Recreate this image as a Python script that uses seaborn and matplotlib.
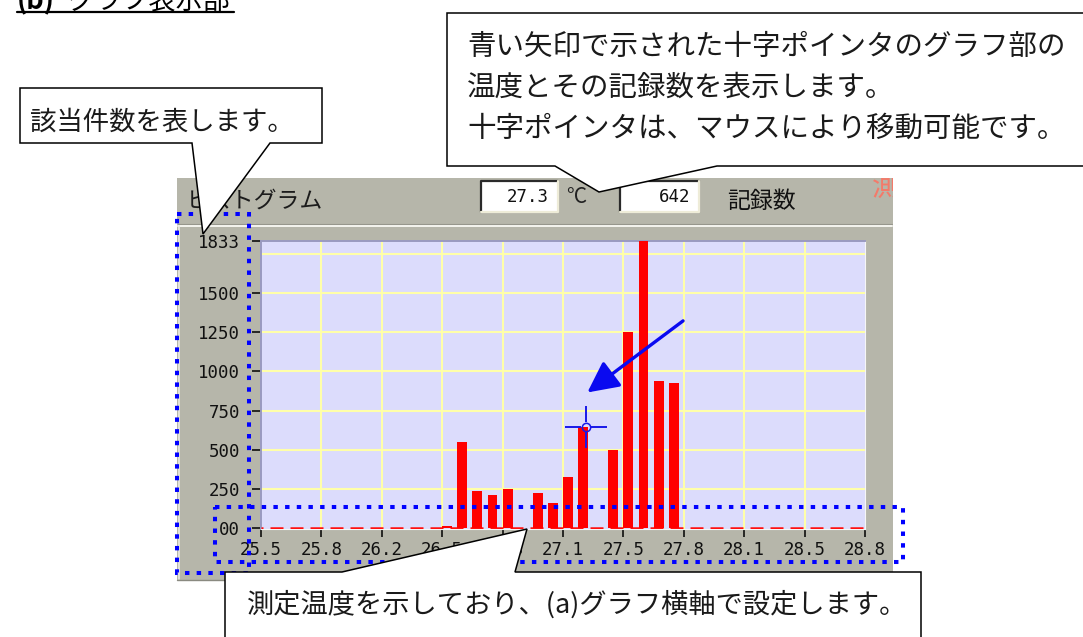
import numpy as np
import pandas as pd
import matplotlib
matplotlib.use("Agg")
import matplotlib.pyplot as plt
import matplotlib.transforms as mtransforms
from matplotlib.patches import Rectangle, Polygon
from matplotlib.path import Path
import seaborn as sns

# ---- histogram data: 40 equal temperature bins between the axis limits ----
temp_min, temp_max = 25.5, 28.8
n_bins = 40
bin_counts = [0, 0, 0, 0, 0, 0, 0, 0, 0, 0, 0, 0,
              15, 547, 236, 212, 251, 0, 225, 161, 328, 642, 0, 498,
              1249, 1833, 937, 927,
              0, 0, 0, 0, 0, 0, 0, 0, 0, 0, 0, 0]
x_tick_labels = ["25.5", "25.8", "26.2", "26.5", "26.8", "27.1",
                 "27.5", "27.8", "28.1", "28.5", "28.8"]
y_ticks = [0, 250, 500, 750, 1000, 1250, 1500, 1833]
y_tick_labels = ["00", "250", "500", "750", "1000", "1250", "1500", "1833"]
cursor_bin = 21          # bin under the cross pointer

panel_title = "ヒストグラム"
unit_label = "°C"
count_label = "記録数"
page_heading_a = "(b)"
page_heading_b = "グラフ表示部"
note_count = "該当件数を表します。"
note_cursor = ["青い矢印で示された十字ポインタのグラフ部の",
               "温度とその記録数を表示します。",
               "十字ポインタは、マウスにより移動可能です。"]
note_axis = "測定温度を示しており、(a)グラフ横軸で設定します。"

sns.set_theme(style="white")
plt.rcParams["font.family"] = ["Noto Sans CJK JP", "DejaVu Sans"]
MONO = "DejaVu Sans Mono"

W, H = 1083, 637
fig = plt.figure(figsize=(W / 100, H / 100), dpi=100)
fig.patch.set_facecolor("white")


def pixel_axes(z):
    a = fig.add_axes([0, 0, 1, 1], zorder=z)
    a.set_xlim(0, W)
    a.set_ylim(H, 0)
    a.axis("off")
    return a


# ---- window panel behind the chart ----
bg = pixel_axes(0)
panel = Rectangle((177, 178), 716, 402, facecolor="#b6b6aa", edgecolor="none")
bg.add_patch(panel)
bg.plot([178, 892], [223.5, 223.5], color="#96968c", lw=0.8)
bg.plot([178, 892], [225.5, 225.5], color="#f4f4ee", lw=1.4)
bg.plot([178.5, 178.5], [226, 579], color="#ececE4", lw=1.2)
bg.plot([177, 893], [580, 580], color="#8a8a80", lw=1.0)
bg.text(186, 201, panel_title, fontsize=16.5, color="#1c1c1c",
        ha="left", va="center")

edges = np.linspace(temp_min, temp_max, n_bins + 1)
bw = edges[1] - edges[0]
cursor_x = edges[cursor_bin] + bw / 2
cursor_y = bin_counts[cursor_bin]


def field(x0, y0, x1, y1, text):
    bg.add_patch(Rectangle((x0, y0), x1 - x0, y1 - y0,
                           facecolor="white", edgecolor="none"))
    bg.plot([x0, x0, x1], [y1, y0, y0], color="#2a2a2a", lw=1.6)
    bg.plot([x0, x1, x1], [y1, y1, y0], color="#eeecd8", lw=1.6)
    bg.text(x1 - 9, (y0 + y1) / 2, text, ha="right", va="center",
            family=MONO, fontsize=12.5, color="#111111")


field(481, 181, 558, 212, f"{cursor_x:.1f}")
bg.text(566, 197, unit_label, fontsize=15, color="#222222",
        ha="left", va="center")
field(620, 181, 699, 212, f"{cursor_y}")
bg.text(727, 201, count_label, fontsize=16.5, color="#111111",
        ha="left", va="center")
status = bg.text(872, 196, "測", fontsize=21, color="#f47a6a",
                 ha="left", va="baseline")
status.set_clip_on(True)
status.set_clip_path(panel)

# ---- histogram axes ----
L, R, T, B = 261, 865, 241, 529.3
zero_px = 528.0
ax = fig.add_axes([L / W, 1 - B / H, (R - L) / W, (B - T) / H], zorder=1)
ax.set_facecolor("#dcdcfc")

df = pd.DataFrame({"pos": edges[:-1] + bw * 0.33, "count": bin_counts})
sns.barplot(data=df, x="pos", y="count", native_scale=True, orient="x",
            width=0.66, color="#ff0000", saturation=1, errorbar=None,
            linewidth=0, ax=ax, zorder=3)
ax.set_xlabel("")
ax.set_ylabel("")

y_top = max(y_ticks)
y_bottom = -(B - zero_px) * y_top / (zero_px - T)
ax.set_xlim(temp_min, temp_max)
ax.set_ylim(y_bottom, y_top)

x_ticks = np.linspace(temp_min, temp_max, len(x_tick_labels))
for v in x_ticks[1:-1]:
    ax.axvline(v, color="#ffffa8", lw=1.5, zorder=1)
for v in np.arange(250, y_top, 250):
    ax.axhline(v, color="#ffffa8", lw=1.5, zorder=1)

for side in ("top", "left"):
    ax.spines[side].set_color("#9a9ac0")
    ax.spines[side].set_linewidth(1.4)
for side in ("bottom", "right"):
    ax.spines[side].set_color("#f6f6f6")
    ax.spines[side].set_linewidth(0.8)

# dashed red baseline where bins are empty (drawn over the spine, under bars)
ax.plot([temp_min, temp_max], [0, 0], color="#ff1010", lw=1.8,
        ls=(4.4, (5.2, 2.8)), zorder=2.8, solid_capstyle="butt",
        dash_capstyle="butt")

ax.set_xticks(x_ticks, x_tick_labels)
ax.set_yticks(y_ticks, y_tick_labels)
ax.tick_params(axis="x", bottom=True, direction="out", length=6, width=1.1,
               color="black", pad=2.5, labelsize=12.5, labelcolor="#111111")
ax.tick_params(axis="y", left=True, direction="out", length=6.5, width=1.1,
               color="black", pad=8.5, labelsize=12.5, labelcolor="#111111")
for lab in ax.get_xticklabels() + ax.get_yticklabels():
    lab.set_fontfamily(MONO)

# cross pointer with a small ring at its centre
g = 0.24
cross = Path([(0, g), (0, 1), (0, -g), (0, -1), (g, 0), (1, 0), (-g, 0), (-1, 0)],
             [Path.MOVETO, Path.LINETO] * 4)
ax.plot([cursor_x], [cursor_y], marker=cross, ms=30, mew=1.4,
        color="#1818e8", ls="none", zorder=5)
ax.plot([cursor_x], [cursor_y], marker="o", ms=6, mfc="none",
        mec="#1818e8", mew=1.1, ls="none", zorder=5)

# blue arrow pointing at the cross pointer
tip = mtransforms.offset_copy(ax.transData, fig=fig, x=1.7, y=35, units="dots")
ax.annotate("", xy=(cursor_x, cursor_y), xycoords=tip,
            xytext=(95.7, 71.6), textcoords="offset pixels",
            arrowprops=dict(arrowstyle="-|>,head_length=1.9,head_width=0.95",
                            color="#0a0af0", lw=2.4, shrinkA=0, shrinkB=0,
                            mutation_scale=10),
            zorder=6)

# ---- explanatory overlay: dotted frames and callouts ----
ov = pixel_axes(3)
dot_style = dict(facecolor="none", edgecolor="#0000ff", lw=2.9,
                 ls=(0, (1.1, 1.8)), capstyle="butt", zorder=2)
ov.add_patch(Rectangle((177, 214), 72, 359, **dot_style))
ov.add_patch(Rectangle((215, 507), 688, 54.5, **dot_style))


def callout(pts):
    ov.add_patch(Polygon(pts, closed=True, facecolor="white",
                         edgecolor="black", lw=1.1, joinstyle="miter",
                         zorder=3))


callout([(20, 88), (322, 88), (322, 143), (270, 143), (203, 234),
         (192, 143), (20, 143)])
callout([(447, 13), (1100, 13), (1100, 166), (717, 166), (599, 192),
         (555, 166), (447, 166)])
callout([(225, 660), (225, 572), (342, 572), (527, 529), (515, 572),
         (921, 572), (921, 660)])

txt = dict(color="#1a1a1a", ha="left", va="center", zorder=4)
ov.text(30, 122, note_count, fontsize=19, **txt)
for line, yc in zip(note_cursor, [47, 88, 129]):
    ov.text(467, yc, line, fontsize=20.5, **txt)
ov.text(247, 605, note_axis, fontsize=19.6, **txt)

# page heading, cut by the top edge
ov.text(17, 8, page_heading_a, fontsize=19.5, fontweight="bold",
        color="black", ha="left", va="baseline", zorder=4)
ov.text(67, 8, page_heading_b, fontsize=19.5, color="black",
        ha="left", va="baseline", zorder=4)
ov.plot([17, 234], [12, 12], color="black", lw=1.6, zorder=4)

fig.savefig("out.png", dpi=100)
